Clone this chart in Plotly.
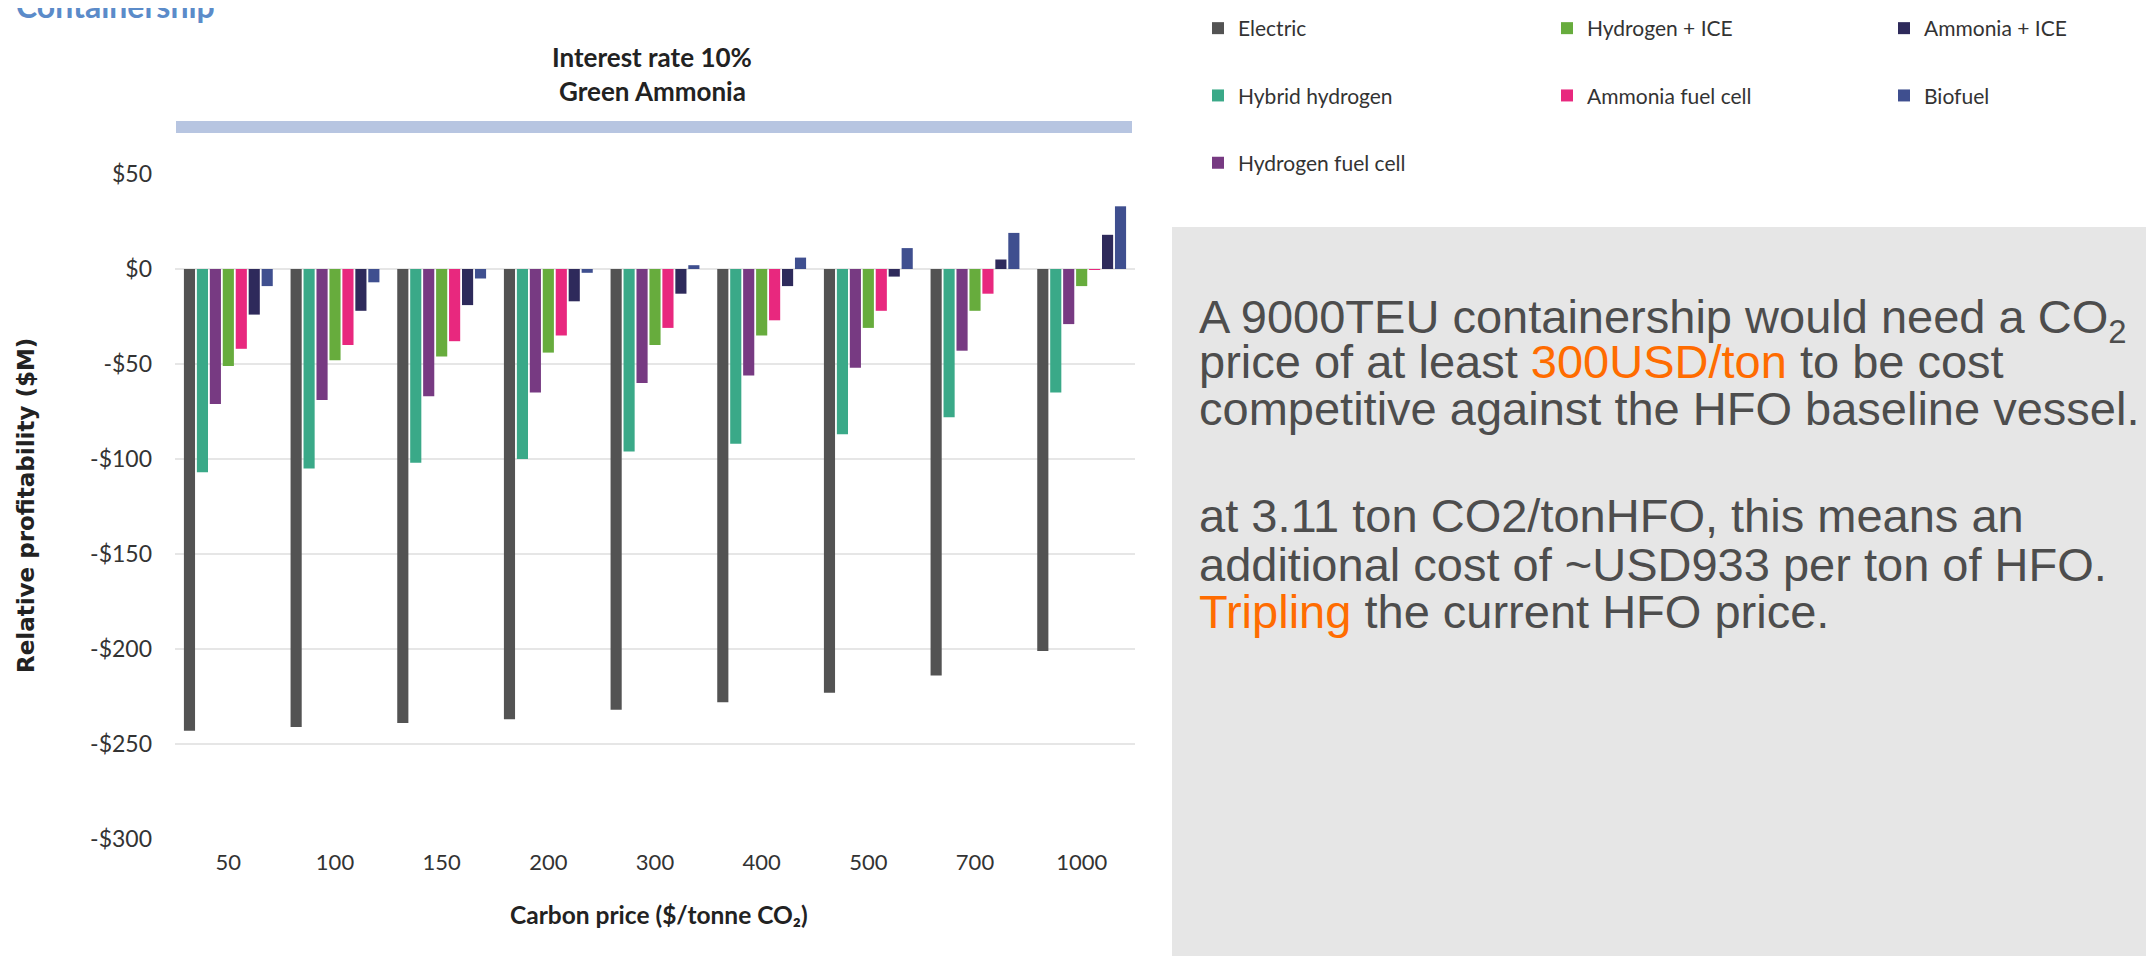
import plotly.graph_objects as go

# carbon price categories ($/tonne CO2)
carbon_price = ["50", "100", "150", "200", "300", "400", "500", "700", "1000"]

# relative profitability ($M) per propulsion option
electric = [-243, -241, -239, -237, -232, -228, -223, -214, -201]
hybrid_hydrogen = [-107, -105, -102, -100, -96, -92, -87, -78, -65]
hydrogen_fuel_cell = [-71, -69, -67, -65, -60, -56, -52, -43, -29]
hydrogen_ice = [-51, -48, -46, -44, -40, -35, -31, -22, -9]
ammonia_fuel_cell = [-42, -40, -38, -35, -31, -27, -22, -13, -0.5]
ammonia_ice = [-24, -22, -19, -17, -13, -9, -4, 5, 18]
biofuel = [-9, -7, -5, -2, 2, 6, 11, 19, 33]

y_tickvals = [50, 0, -50, -100, -150, -200, -250, -300]
y_ticktext = ["$50", "$0", "-$50", "-$100", "-$150", "-$200", "-$250", "-$300"]

note_lines = [
    "A 9000TEU containership would need a CO<sub>2</sub>",
    "price of at least <span style='color:#ff6c00'>300USD/ton</span> to be cost",
    "competitive against the HFO baseline vessel.",
    "at 3.11 ton CO2/tonHFO, this means an",
    "additional cost of ~USD933 per ton of HFO.",
    "<span style='color:#ff6c00'>Tripling</span> the current HFO price.",
]
note_centres = [320, 361, 408, 516, 564, 611]  # window pixels

# name, values, colour, legend column, rank
series = [
    ("Electric", electric, "#535353", "legend", 1),
    ("Hybrid hydrogen", hybrid_hydrogen, "#3aa988", "legend", 2),
    ("Hydrogen fuel cell", hydrogen_fuel_cell, "#773a82", "legend", 3),
    ("Hydrogen + ICE", hydrogen_ice, "#67ac3d", "legend2", 1),
    ("Ammonia fuel cell", ammonia_fuel_cell, "#e8287e", "legend2", 2),
    ("Ammonia + ICE", ammonia_ice, "#2e2a5b", "legend3", 1),
    ("Biofuel", biofuel, "#3f4f8f", "legend3", 2),
]

W, H = 2154, 956
BODY = 8  # default page margin around the plot div
FW, FH = W - BODY, H - BODY
L, R, T, B = 175, 1135, 174, 839  # plot area in window pixels


def px(x):
    return (x - L) / (R - L)


def py(y):
    return (B - y) / (B - T)


def cx(x):
    return (x - BODY) / FW


def cy(y):
    return 1 - (y - BODY) / FH


fig = go.Figure()
for name, vals, color, leg, rank in series:
    fig.add_trace(go.Bar(
        x=carbon_price, y=vals, name=name,
        marker=dict(color=color, line=dict(width=0)),
        legend=leg, legendgroup=name, legendrank=rank,
    ))

legend_style = dict(
    orientation="v", xref="container", yref="container",
    xanchor="left", yanchor="top", y=cy(-7),
    font=dict(family="Lato", size=21, color="#333333"),
    tracegroupgap=37, bgcolor="rgba(0,0,0,0)",
)

fig.update_layout(
    width=FW, height=FH,
    margin=dict(l=L - BODY, r=W - R, t=T - BODY, b=H - B),
    paper_bgcolor="white", plot_bgcolor="white",
    barmode="group", bargap=0.15, bargroupgap=0.14,
    font=dict(family="Lato", size=22, color="#333333"),
    showlegend=True,
    legend=dict(x=cx(1198), **legend_style),
    legend2=dict(x=cx(1547), **legend_style),
    legend3=dict(x=cx(1884), **legend_style),
    xaxis=dict(
        showgrid=False, showline=False, ticks="",
        tickfont=dict(family="Lato", size=22, color="#333333"),
        ticklabelstandoff=8,
    ),
    yaxis=dict(
        range=[-300, 50], tickvals=y_tickvals, ticktext=y_ticktext,
        showgrid=True, gridcolor="#e6e6e6", gridwidth=2,
        zeroline=True, zerolinecolor="#e6e6e6", zerolinewidth=2,
        showline=False, ticks="",
        tickfont=dict(family="Lato", size=23, color="#333333"),
        ticklabelstandoff=22,
    ),
)

shapes = [
    # blue band above the plot
    dict(type="rect", xref="paper", yref="paper",
         x0=px(176), x1=px(1132), y0=py(133), y1=py(121),
         fillcolor="#b7c5e1", line=dict(width=0), layer="below"),
    # grey note panel
    dict(type="rect", xref="paper", yref="paper",
         x0=px(1172), x1=px(W + 5), y0=py(H + 5), y1=py(227),
         fillcolor="#e6e6e6", line=dict(width=0), layer="below"),
]
fig.update_layout(shapes=shapes)

annotations = [
    dict(text="Containership", x=px(14), y=py(27), xanchor="left", yanchor="bottom",
         font=dict(family="Lato", size=32, color="#5b8bc9", weight="bold")),
    dict(text="Interest rate 10%", x=px(652), y=py(57), xanchor="center", yanchor="middle",
         font=dict(family="Lato", size=26, color="#222222", weight="bold")),
    dict(text="Green Ammonia", x=px(652), y=py(91), xanchor="center", yanchor="middle",
         font=dict(family="Lato", size=26, color="#222222", weight="bold")),
    dict(text="Relative profitability ($M)", x=px(26), y=py(506), textangle=-90,
         xanchor="center", yanchor="middle",
         font=dict(family="DejaVu Sans", size=23, color="#222222", weight="bold")),
    dict(text="Carbon price ($/tonne CO₂)", x=px(659), y=py(914),
         xanchor="center", yanchor="middle",
         font=dict(family="Lato", size=24.5, color="#222222", weight="bold")),
]
for line, yy in zip(note_lines, note_centres):
    annotations.append(dict(
        text=line, x=px(1197), y=py(yy), xanchor="left", yanchor="middle", align="left",
        font=dict(family="Liberation Sans", size=47, color="#4d4d4d"),
    ))
for a in annotations:
    a.update(xref="paper", yref="paper", showarrow=False)
fig.update_layout(annotations=annotations)

fig.write_html("out.html")
